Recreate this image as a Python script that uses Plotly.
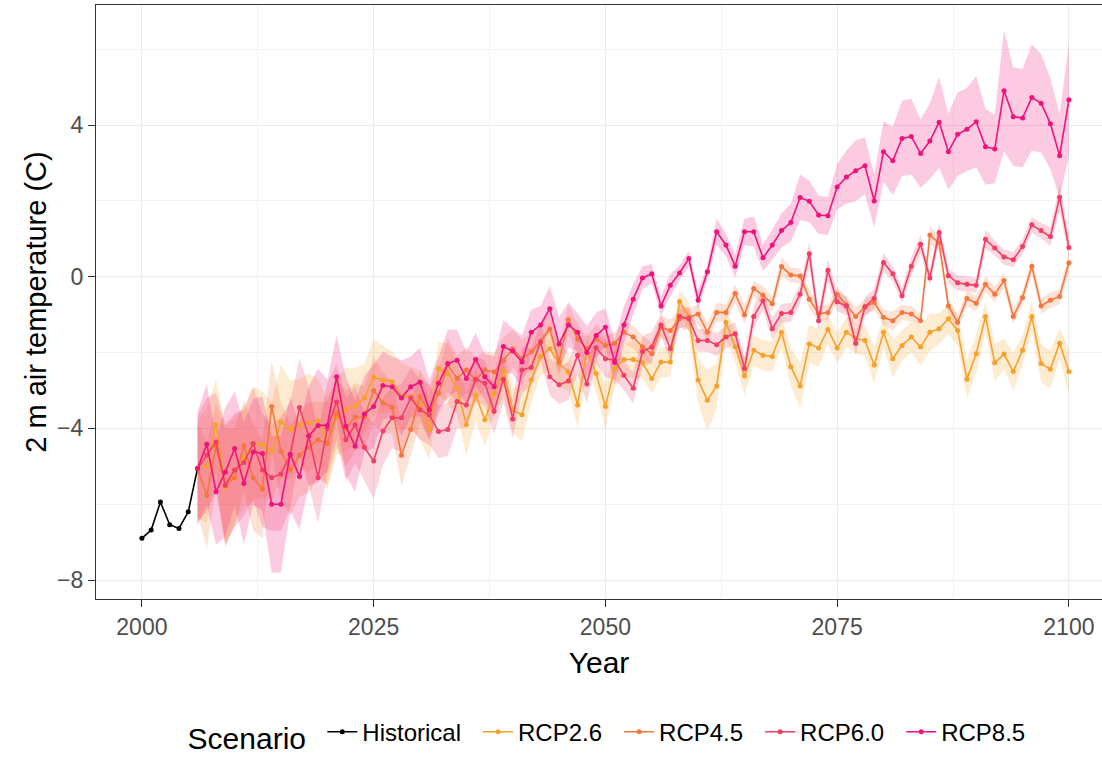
import plotly.graph_objects as go

# ---------------- data ----------------
hist_years = [2000, 2001, 2002, 2003, 2004, 2005, 2006]
hist_vals = [-6.90, -6.68, -5.94, -6.54, -6.64, -6.20, -5.06]

years = list(range(2006, 2101))

rcp26 = [-5.06, -4.99, -3.90, -5.55, -5.10, -4.77, -4.40, -4.42, -4.60, -3.83,
         -4.03, -3.90, -3.85, -3.80, -4.42, -3.70, -3.50, -3.40, -3.20, -2.65,
         -2.72, -2.77, -3.16, -3.16, -3.38, -4.03, -2.42, -2.55, -2.94, -3.90,
         -3.12, -3.77, -3.07, -2.48, -3.51, -3.64, -2.72, -2.11, -1.90, -2.29,
         -2.51, -3.38, -1.94, -2.55, -3.42, -2.42, -2.18, -2.18, -2.27, -2.68,
         -2.25, -2.25, -0.65, -1.07, -2.72, -3.26, -2.88, -1.20, -1.85, -2.62,
         -1.94, -2.07, -2.10, -1.46, -2.37, -2.88, -1.77, -1.88, -1.39, -1.88,
         -1.46, -1.63, -1.68, -2.33, -1.46, -2.16, -1.81, -1.59, -1.85, -1.46,
         -1.37, -1.11, -1.42, -2.70, -2.03, -1.05, -2.27, -2.04, -2.50, -1.94,
         -1.05, -2.29, -2.44, -1.75, -2.50]

rcp45 = [-5.06, -5.77, -4.47, -5.50, -5.30, -4.45, -5.30, -5.60, -3.42, -4.60,
         -5.10, -4.70, -4.50, -4.30, -4.40, -3.60, -4.00, -3.70, -3.70, -3.00,
         -3.33, -3.44, -4.71, -4.03, -3.16, -3.57, -3.07, -2.33, -2.68, -2.46,
         -2.72, -2.46, -2.51, -2.20, -1.90, -2.16, -1.98, -1.70, -1.38, -2.24,
         -1.13, -1.64, -1.90, -1.64, -1.81, -1.76, -1.46, -1.59, -1.85, -2.03,
         -1.33, -1.42, -1.11, -1.07, -0.98, -1.46, -0.94, -0.94, -0.44, -1.00,
         -0.31, -0.49, -0.71, 0.27, 0.05, 0.02, -0.59, -0.97, -0.94, -0.46,
         -0.74, -1.05, -0.79, -0.68, -1.07, -1.16, -0.94, -0.98, -1.16, 1.10,
         0.89, -0.77, -1.20, -0.57, -0.70, -0.20, -0.46, -0.10, -1.05, -0.55,
         0.28, -0.77, -0.62, -0.52, 0.37]

rcp60 = [-5.06, -4.70, -4.36, -5.50, -5.10, -4.90, -4.40, -5.10, -5.30, -5.20,
         -4.70, -3.45, -4.20, -5.30, -4.00, -3.30, -4.30, -3.90, -4.50, -4.86,
         -4.07, -3.72, -3.72, -3.20, -3.51, -3.64, -4.08, -4.03, -3.29, -3.38,
         -2.70, -2.81, -3.55, -2.70, -3.75, -2.46, -2.39, -1.72, -2.64, -2.85,
         -2.75, -2.07, -2.83, -1.87, -2.16, -2.20, -2.60, -2.94, -1.97, -1.85,
         -1.27, -1.90, -1.04, -1.11, -1.68, -1.68, -1.79, -1.59, -1.50, -2.42,
         -1.05, -0.63, -1.37, -0.97, -0.94, -0.46, 0.61, -1.16, 0.17, -0.66,
         -0.77, -1.75, -0.79, -0.57, 0.38, 0.08, -0.50, 0.28, 0.86, -0.03,
         1.17, 0.03, -0.16, -0.20, -0.22, 0.99, 0.76, 0.52, 0.45, 0.80,
         1.37, 1.22, 1.06, 2.10, 0.77]

rcp85 = [-5.06, -4.42, -5.67, -5.15, -4.53, -5.45, -4.62, -4.66, -6.00, -6.00,
         -4.68, -5.27, -4.20, -3.92, -3.92, -2.64, -3.94, -4.47, -3.62, -3.42,
         -2.87, -2.90, -3.20, -2.90, -2.78, -3.51, -2.81, -2.29, -2.20, -2.68,
         -2.18, -2.64, -2.90, -1.84, -1.96, -2.25, -1.46, -1.27, -0.84, -1.77,
         -1.27, -1.46, -2.00, -1.55, -1.33, -2.26, -1.27, -0.59, -0.03, 0.08,
         -0.77, -0.22, 0.10, 0.48, -0.62, 0.13, 1.19, 0.84, 0.28, 1.19,
         1.19, 0.50, 0.84, 1.22, 1.43, 2.09, 1.99, 1.63, 1.61, 2.37,
         2.63, 2.80, 2.93, 2.00, 3.30, 3.06, 3.65, 3.70, 3.25, 3.58,
         4.08, 3.30, 3.76, 3.89, 4.09, 3.43, 3.37, 4.91, 4.22, 4.19,
         4.73, 4.58, 4.04, 3.19, 4.67]

# half-width of the shaded ensemble range, per year
spread26 = [1.3, 1.5, 1.2, 1.6, 1.4, 1.3, 1.5, 1.4, 1.3, 1.5,
            1.3, 1.2, 1.3, 1.1, 1.2, 1.0, 1.1, 1.0, 0.9, 1.0,
            0.9, 0.8, 0.9, 0.8, 0.9, 0.8, 0.7, 0.8, 0.7, 0.8,
            0.7, 0.7, 0.6, 0.7, 0.6, 0.7, 0.6, 0.5, 0.6, 0.6,
            0.5, 0.6, 0.5, 0.5, 0.6, 0.5, 0.4, 0.5, 0.4, 0.4,
            0.4, 0.4, 0.3, 0.4, 0.6, 0.8, 0.6, 0.4, 0.4, 0.5,
            0.4, 0.4, 0.4, 0.4, 0.5, 0.6, 0.5, 0.5, 0.4, 0.4,
            0.4, 0.4, 0.4, 0.5, 0.4, 0.5, 0.4, 0.4, 0.5, 0.5,
            0.4, 0.4, 0.4, 0.5, 0.5, 0.4, 0.5, 0.4, 0.5, 0.4,
            0.4, 0.5, 0.5, 0.4, 0.6]

spread45 = [1.2, 1.4, 1.1, 1.5, 1.3, 1.2, 1.4, 1.3, 1.2, 1.3,
            1.2, 1.1, 1.2, 1.0, 1.1, 0.9, 1.0, 0.9, 0.8, 0.9,
            0.8, 0.7, 0.8, 0.7, 0.7, 0.7, 0.6, 0.7, 0.6, 0.6,
            0.6, 0.5, 0.5, 0.6, 0.5, 0.5, 0.5, 0.4, 0.5, 0.4,
            0.4, 0.4, 0.3, 0.4, 0.3, 0.3, 0.3, 0.3, 0.3, 0.3,
            0.3, 0.3, 0.25, 0.25, 0.25, 0.25, 0.25, 0.2, 0.25, 0.25,
            0.2, 0.25, 0.2, 0.25, 0.2, 0.2, 0.25, 0.2, 0.2, 0.2,
            0.2, 0.25, 0.2, 0.2, 0.2, 0.25, 0.2, 0.2, 0.2, 0.25,
            0.2, 0.2, 0.2, 0.2, 0.2, 0.2, 0.2, 0.2, 0.2, 0.2,
            0.2, 0.2, 0.2, 0.2, 0.25]

spread60 = [1.4, 1.5, 1.3, 1.6, 1.5, 1.4, 1.5, 1.5, 1.4, 1.5,
            1.4, 1.3, 1.3, 1.2, 1.2, 1.0, 1.1, 1.0, 0.9, 1.0,
            0.9, 0.8, 0.9, 0.8, 0.8, 0.8, 0.7, 0.7, 0.7, 0.6,
            0.6, 0.6, 0.6, 0.6, 0.5, 0.6, 0.5, 0.5, 0.5, 0.5,
            0.5, 0.5, 0.5, 0.4, 0.5, 0.5, 0.4, 0.4, 0.4, 0.4,
            0.3, 0.3, 0.3, 0.3, 0.3, 0.3, 0.3, 0.3, 0.3, 0.3,
            0.3, 0.25, 0.3, 0.25, 0.25, 0.25, 0.3, 0.25, 0.3, 0.25,
            0.25, 0.3, 0.25, 0.25, 0.25, 0.2, 0.2, 0.25, 0.25, 0.2,
            0.25, 0.2, 0.2, 0.2, 0.2, 0.25, 0.2, 0.2, 0.2, 0.2,
            0.2, 0.2, 0.25, 0.35, 0.3]

spread85 = [1.5, 1.6, 1.4, 1.7, 1.5, 1.6, 1.4, 1.5, 1.8, 1.8,
            1.5, 1.4, 1.3, 1.5, 1.2, 1.1, 1.3, 1.2, 1.0, 1.1,
            0.9, 0.8, 1.0, 0.8, 0.9, 0.8, 0.7, 0.9, 0.8, 0.7,
            0.7, 0.6, 0.8, 0.7, 0.6, 0.7, 0.6, 0.5, 0.6, 0.7,
            0.6, 0.5, 0.7, 0.6, 0.5, 0.6, 0.5, 0.4, 0.3, 0.25,
            0.25, 0.3, 0.2, 0.2, 0.25, 0.2, 0.35, 0.3, 0.3, 0.35,
            0.4, 0.35, 0.4, 0.45, 0.5, 0.6, 0.55, 0.5, 0.5, 0.6,
            0.7, 0.8, 0.75, 0.7, 0.8, 0.9, 1.0, 1.0, 0.9, 1.0,
            1.2, 1.0, 1.1, 1.1, 1.2, 1.0, 0.9, 1.6, 1.3, 1.3,
            1.4, 1.3, 1.2, 1.1, 1.5]

scenarios = ["RCP2.6", "RCP4.5", "RCP6.0", "RCP8.5"]
colors = ["#F7A12A", "#F5773D", "#F33D65", "#F2127B"]
fills = ["rgba(247,161,42,0.21)", "rgba(245,119,61,0.21)",
         "rgba(243,61,101,0.21)", "rgba(242,18,123,0.22)"]
values = [rcp26, rcp45, rcp60, rcp85]
spreads = [spread26, spread45, spread60, spread85]

FONT = "Liberation Sans, Arial, sans-serif"
PAD = "\u2002"  # small trailing gap between legend entries

fig = go.Figure()

# ribbons
for name, fc, v, s in zip(scenarios, fills, values, spreads):
    upper = [a + b for a, b in zip(v, s)]
    lower = [a - b for a, b in zip(v, s)]
    fig.add_trace(go.Scatter(
        x=years + years[::-1], y=upper + lower[::-1],
        fill="toself", fillcolor=fc, line=dict(width=0),
        mode="lines", showlegend=False, hoverinfo="skip"))

# historical
fig.add_trace(go.Scatter(
    x=hist_years, y=hist_vals, mode="lines+markers", name="Historical" + PAD,
    line=dict(color="black", width=1.6), marker=dict(color="black", size=5)))

# scenario lines
for name, c, v in zip(scenarios, colors, values):
    fig.add_trace(go.Scatter(
        x=years, y=v, mode="lines+markers", name=name + PAD,
        line=dict(color=c, width=1.6), marker=dict(color=c, size=5)))

grid_major = "#EBEBEB"
grid_minor = "#F2F2F2"

fig.update_layout(
    width=1102, height=759,
    margin=dict(l=96, r=0, t=5, b=154),
    paper_bgcolor="white", plot_bgcolor="white",
    font=dict(family=FONT, color="black"),
    showlegend=True,
    legend=dict(
        orientation="h", x=0.515, xanchor="center", y=-0.2275, yanchor="middle",
        title=dict(text="Scenario ", side="left", font=dict(size=30, color="black")),
        font=dict(size=24, color="black"),
        itemwidth=30, tracegroupgap=0, bgcolor="rgba(0,0,0,0)"),
    xaxis=dict(
        range=[1995.05, 2103.57], tickvals=[2000, 2025, 2050, 2075, 2100],
        showgrid=True, gridcolor=grid_major, gridwidth=1.2,
        minor=dict(tickvals=[2012.5, 2037.5, 2062.5, 2087.5], showgrid=True,
                   gridcolor=grid_minor, gridwidth=1, ticks=""),
        zeroline=False, showline=True, mirror=True, linecolor="#333333", linewidth=1.2,
        ticks="outside", ticklen=7, tickwidth=1.2, tickcolor="#333333",
        tickfont=dict(size=23, color="#4D4D4D", family=FONT),
        title=dict(text="Year", font=dict(size=30, color="black"), standoff=13)),
    yaxis=dict(
        range=[-8.5, 7.17], tickvals=[-8, -4, 0, 4],
        showgrid=True, gridcolor=grid_major, gridwidth=1.2,
        minor=dict(tickvals=[-6, -2, 2, 6], showgrid=True,
                   gridcolor=grid_minor, gridwidth=1, ticks=""),
        zeroline=False, showline=True, mirror=False, linecolor="#333333", linewidth=1.2,
        ticks="outside", ticklen=7, tickwidth=1.2, tickcolor="#333333",
        tickfont=dict(size=23, color="#4D4D4D", family=FONT),
        title=dict(text="2 m air temperature (C)", font=dict(size=29, color="black"),
                   standoff=1)),
)

fig.write_html("out.html")
